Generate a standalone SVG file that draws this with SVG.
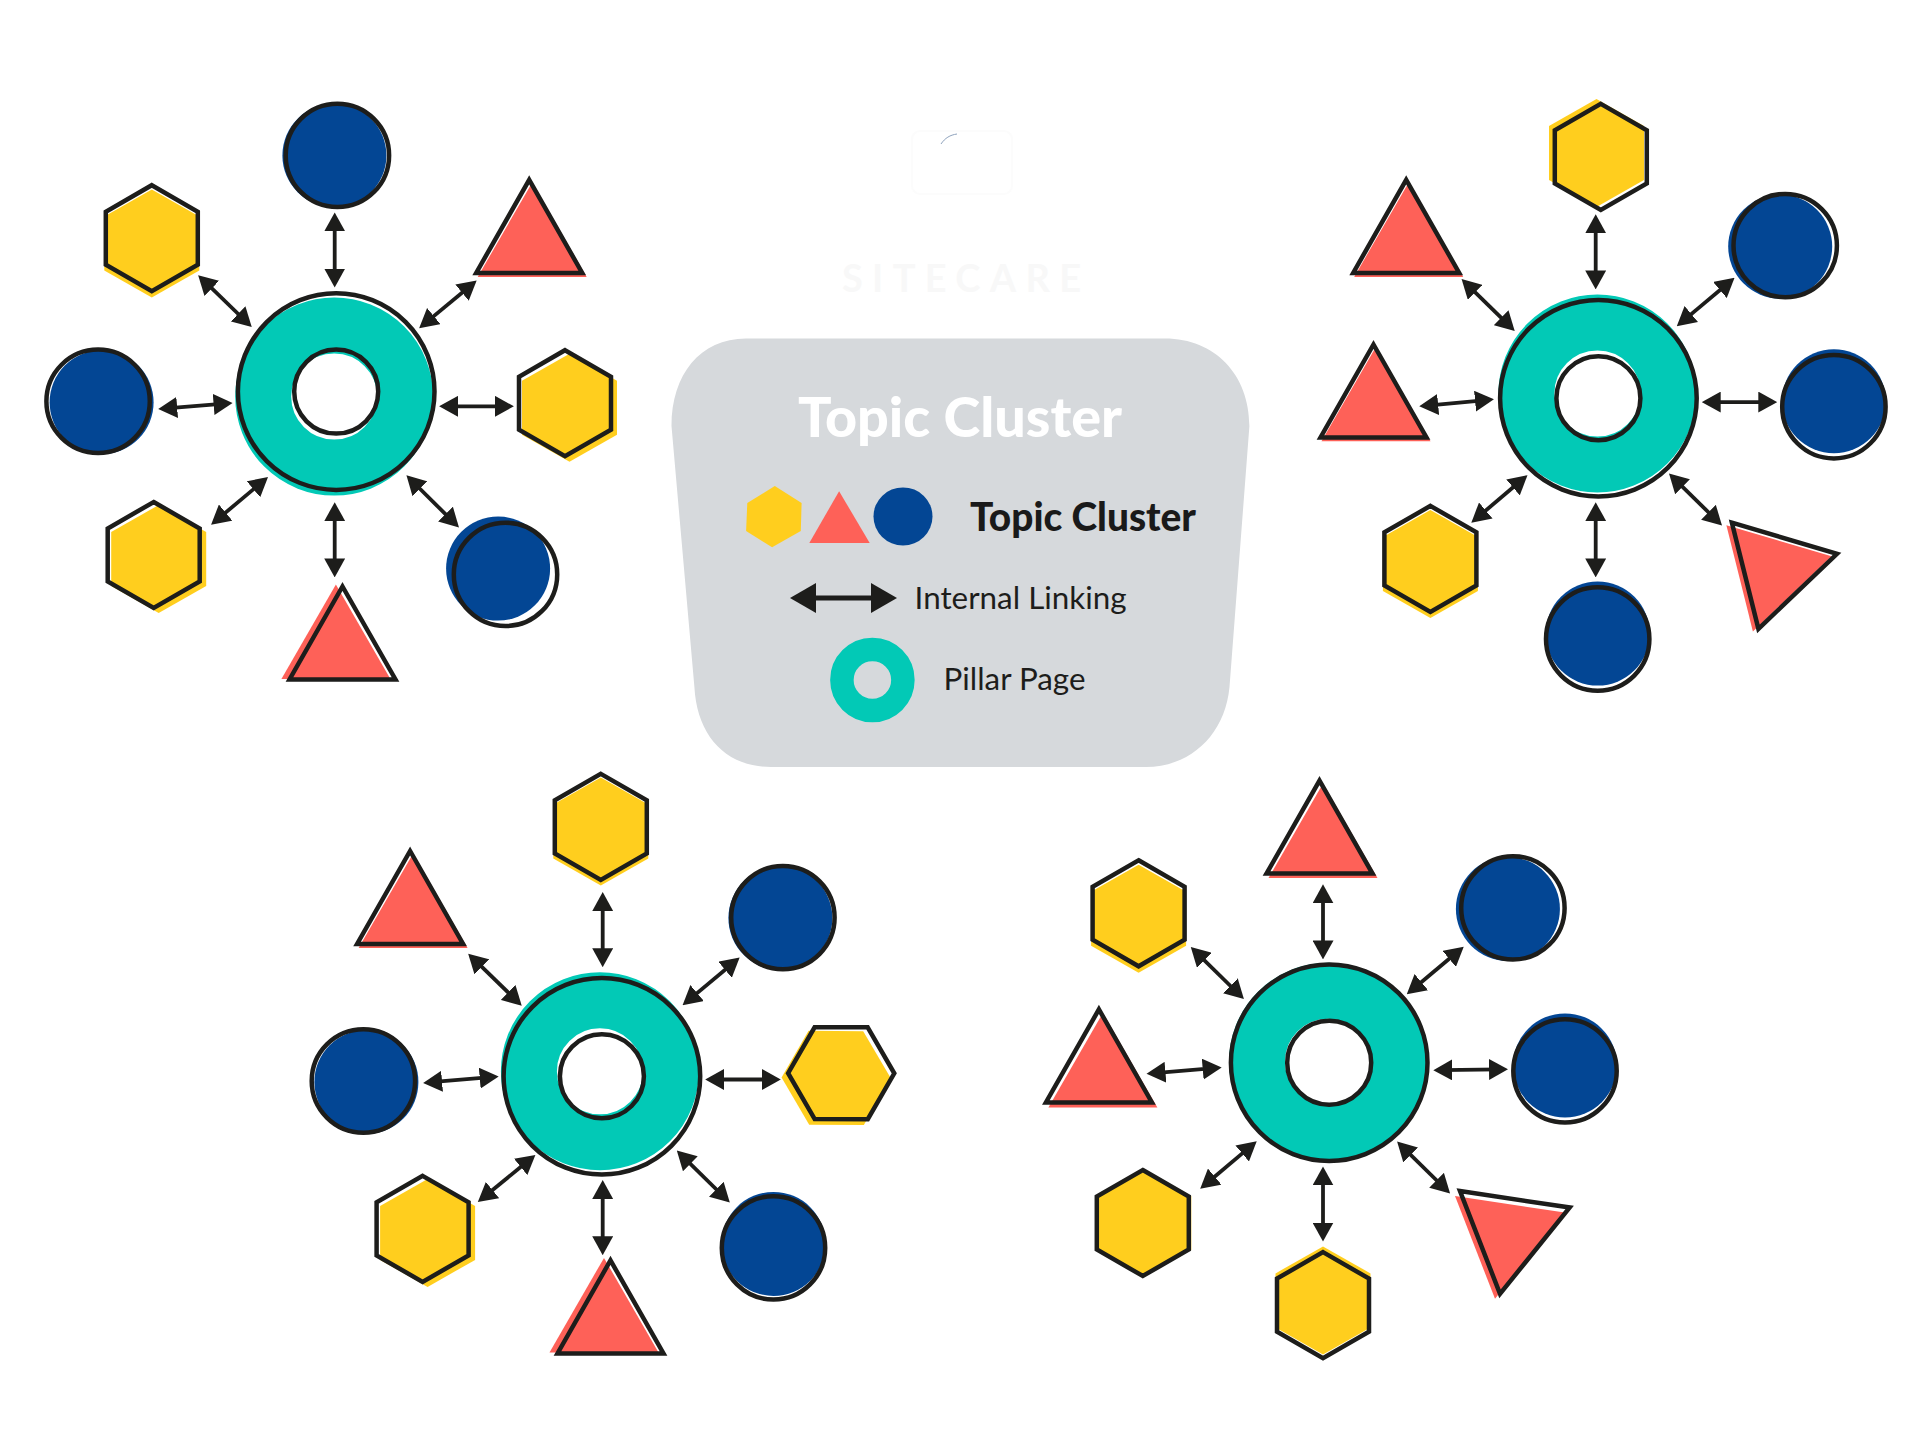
<svg xmlns="http://www.w3.org/2000/svg" width="1920" height="1440" viewBox="0 0 1920 1440">
<style>
.y{fill:#ffce1e}.r{fill:#fe6158}.b{fill:#034694}
.o{fill:none;stroke:#1d1d1b;stroke-width:4.5;stroke-linejoin:miter}
.t{fill:none;stroke:#02c9b6;stroke-width:56}
.c line{stroke:#1d1d1b;stroke-width:3.8;marker-start:url(#ah);marker-end:url(#ah)}
text{font-family:Lato,"Liberation Sans",sans-serif}
</style>
<defs>
<marker id="ah" markerUnits="userSpaceOnUse" viewBox="0 0 19 21" markerWidth="19" markerHeight="21" refX="11" refY="10.5" orient="auto-start-reverse"><path d="M0,0L19,10.5L0,21Z" fill="#1d1d1b"/></marker>
<marker id="ahl" markerUnits="userSpaceOnUse" viewBox="0 0 26 30" markerWidth="26" markerHeight="30" refX="14" refY="15" orient="auto-start-reverse"><path d="M0,0L26,15L0,30Z" fill="#1d1d1b"/></marker>
<polygon id="hf" points="0,-54 47.5,-27 47.5,27 0,54 -47.5,27 -47.5,-27"/>
<polygon id="hl" points="0,-53 46,-26.5 46,26.5 0,53 -46,26.5 -46,-26.5"/>
<polygon id="tf" points="0,-93.5 54.5,1 -54.5,1"/>
<polygon id="tl" points="0,-93 53,0 -53,0"/>
<circle id="cf" r="52"/>
<circle id="cl" r="51.7"/>
<circle id="rt" r="71"/>
<g id="rl"><circle r="98.3"/><circle r="42"/></g>
</defs>
<rect width="1920" height="1440" fill="#fff"/>

<g id="logo">
<path d="M941,144C945,138 950,135 957,134" fill="none" stroke="#8fa3bd" stroke-width="1"/>
<rect x="912" y="131" width="100" height="63" rx="8" fill="none" stroke="#fcfcfc" stroke-width="2"/>
<text x="842" y="292" font-size="38" font-weight="700" fill="#f8f8f8" textLength="239">SITECARE</text>
</g>

<g id="legend">
<path d="M746,338.6H1165C1215,338.6 1249.4,375 1249.4,426L1229.5,687C1225,735 1190,767 1146,767H771C725,767 697,735 694.4,687L671.5,426C671.5,375 700,338.6 746,338.6Z" fill="#d6d9dc"/>
<text x="798" y="437" font-size="56" font-weight="900" fill="#fff" textLength="324" lengthAdjust="spacingAndGlyphs">Topic Cluster</text>
<polygon class="y" points="774.8,486 801.6,503 800.8,531 772.1,547.2 746.1,531 747.3,503"/>
<polygon class="r" points="839.1,491.2 869.7,543 809.3,543"/>
<ellipse class="b" cx="903" cy="516.4" rx="29.5" ry="29"/>
<text x="970" y="531" font-size="39" font-weight="900" fill="#1a1a1a" textLength="226" lengthAdjust="spacingAndGlyphs">Topic Cluster</text>
<line x1="802" y1="598" x2="885" y2="598" stroke="#1d1d1b" stroke-width="5" marker-start="url(#ahl)" marker-end="url(#ahl)"/>
<text x="914.6" y="608.7" font-size="31" fill="#1d1d1b" textLength="212" lengthAdjust="spacingAndGlyphs">Internal Linking</text>
<circle cx="872.4" cy="680" r="30.5" fill="none" stroke="#02c9b6" stroke-width="23.5"/>
<text x="943.5" y="690" font-size="31" fill="#1d1d1b" textLength="142" lengthAdjust="spacingAndGlyphs">Pillar Page</text>
</g>

<g id="connectors" class="c">
<line x1="334.7" y1="220.4" x2="334.7" y2="279.5"/>
<line x1="470.5" y1="285.7" x2="425.3" y2="323.1"/>
<line x1="447.1" y1="406.3" x2="505.9" y2="406.3"/>
<line x1="412.1" y1="481" x2="453.3" y2="521.9"/>
<line x1="334.7" y1="510.2" x2="334.7" y2="569.4"/>
<line x1="261.9" y1="482.2" x2="217.2" y2="519.6"/>
<line x1="224.6" y1="403.6" x2="166.2" y2="408.3"/>
<line x1="203.9" y1="280.7" x2="246" y2="321.5"/>

<line x1="1595.7" y1="222.3" x2="1595.7" y2="281.4"/>
<line x1="1728.4" y1="283" x2="1682.9" y2="321.1"/>
<line x1="1709.7" y1="402.1" x2="1769.3" y2="402.1"/>
<line x1="1674.7" y1="479.1" x2="1716.3" y2="520"/>
<line x1="1595.7" y1="510.2" x2="1595.7" y2="569.4"/>
<line x1="1521.4" y1="480.3" x2="1477.4" y2="517.6"/>
<line x1="1486" y1="400.1" x2="1427.2" y2="405.6"/>
<line x1="1467.3" y1="284.6" x2="1509" y2="325.4"/>

<line x1="602.7" y1="900.1" x2="602.7" y2="959.2"/>
<line x1="733.5" y1="962.7" x2="688.7" y2="1000.1"/>
<line x1="713.2" y1="1079.5" x2="772.8" y2="1079.5"/>
<line x1="682.5" y1="1156.1" x2="724.1" y2="1197"/>
<line x1="602.7" y1="1188" x2="602.7" y2="1247.2"/>
<line x1="529.2" y1="1160" x2="484" y2="1197"/>
<line x1="490.7" y1="1077.1" x2="431.1" y2="1082.2"/>
<line x1="473.9" y1="959.2" x2="516" y2="1000.1"/>

<line x1="1323" y1="892.3" x2="1323" y2="951.4"/>
<line x1="1457.6" y1="951.8" x2="1412.9" y2="989.2"/>
<line x1="1441.3" y1="1070.1" x2="1500" y2="1069.3"/>
<line x1="1402.8" y1="1147.2" x2="1444.4" y2="1188"/>
<line x1="1323" y1="1174.4" x2="1323" y2="1233.5"/>
<line x1="1250.6" y1="1146.4" x2="1206.3" y2="1183.7"/>
<line x1="1213.7" y1="1068.2" x2="1154.5" y2="1073.2"/>
<line x1="1196.5" y1="952.6" x2="1238.2" y2="993.5"/>
</g>

<g id="cluster-1">
<g id="c1-pillar"><use href="#rt" class="t" transform="translate(334.2 396.6)"/><use href="#rl" class="o" transform="translate(336.2 391.6)"/></g>
<g id="c1-top"><use href="#cf" class="b" transform="translate(334.4 155.4)"/><use href="#cl" class="o" transform="translate(337.4 155.4)"/></g>
<g id="c1-tl"><use href="#hf" class="y" transform="translate(151.8 243.6)"/><use href="#hl" class="o" transform="translate(151.8 238.2)"/></g>
<g id="c1-tr"><use href="#tf" class="r" transform="translate(532.2 275.9)"/><use href="#tl" class="o" transform="translate(529.2 272.9)"/></g>
<g id="c1-r"><use href="#hf" class="y" transform="translate(569.5 407.7)"/><use href="#hl" class="o" transform="translate(565 403.2)"/></g>
<g id="c1-br"><use href="#cf" class="b" transform="translate(498.1 568.6)"/><use href="#cl" class="o" transform="translate(505.5 574.4)"/></g>
<g id="c1-b"><use href="#tf" class="r" transform="translate(335.9 678)"/><use href="#tl" class="o" transform="translate(342.5 679.5)"/></g>
<g id="c1-bl"><use href="#hf" class="y" transform="translate(158.7 559)"/><use href="#hl" class="o" transform="translate(153.7 555)"/></g>
<g id="c1-l"><use href="#cf" class="b" transform="translate(101.6 402.3)"/><use href="#cl" class="o" transform="translate(98.1 401.3)"/></g>
</g>

<g id="cluster-2">
<g id="c2-pillar"><use href="#rt" class="t" transform="translate(1597.4 393.5)"/><use href="#rl" class="o" transform="translate(1598.4 398.2)"/></g>
<g id="c2-top"><use href="#hf" class="y" transform="translate(1596.5 153)"/><use href="#hl" class="o" transform="translate(1600.8 156.9)"/></g>
<g id="c2-tr"><use href="#cf" class="b" transform="translate(1780.2 246.6)"/><use href="#cl" class="o" transform="translate(1785.2 245.6)"/></g>
<g id="c2-r"><use href="#cf" class="b" transform="translate(1833.9 401.3)"/><use href="#cl" class="o" transform="translate(1833.9 406.7)"/></g>
<g id="c2-br"><polygon class="r" points="1726.4,525.2 1831.5,556.3 1752.9,631.4"/><polygon class="o" points="1731.9,522.7 1837,553.8 1758.4,628.9"/></g>
<g id="c2-b"><use href="#cf" class="b" transform="translate(1597.7 633.6)"/><use href="#cl" class="o" transform="translate(1597.7 639)"/></g>
<g id="c2-bl"><use href="#hf" class="y" transform="translate(1430.4 563.9)"/><use href="#hl" class="o" transform="translate(1430.4 558.9)"/></g>
<g id="c2-l"><use href="#tf" class="r" transform="translate(1376 440.2)"/><use href="#tl" class="o" transform="translate(1373.5 437.5)"/></g>
<g id="c2-tl"><use href="#tf" class="r" transform="translate(1408.7 275.9)"/><use href="#tl" class="o" transform="translate(1406.2 272.9)"/></g>
</g>

<g id="cluster-3">
<g id="c3-pillar"><use href="#rt" class="t" transform="translate(599.9 1071.3)"/><use href="#rl" class="o" transform="translate(601.9 1076.3)"/></g>
<g id="c3-top"><use href="#hf" class="y" transform="translate(600.8 831.4)"/><use href="#hl" class="o" transform="translate(600.8 826.9)"/></g>
<g id="c3-tr"><use href="#cf" class="b" transform="translate(780.4 918.1)"/><use href="#cl" class="o" transform="translate(782.9 917.6)"/></g>
<g id="c3-r"><use href="#hf" class="y" transform="translate(836.2 1077.9) rotate(30)"/><use href="#hl" class="o" transform="translate(841.2 1073.2) rotate(30)"/></g>
<g id="c3-br"><use href="#cf" class="b" transform="translate(773.5 1243.9)"/><use href="#cl" class="o" transform="translate(773.5 1247.9)"/></g>
<g id="c3-b"><use href="#tf" class="r" transform="translate(604 1351.4)"/><use href="#tl" class="o" transform="translate(610.5 1353.4)"/></g>
<g id="c3-bl"><use href="#hf" class="y" transform="translate(427.6 1232.9)"/><use href="#hl" class="o" transform="translate(422.6 1228.9)"/></g>
<g id="c3-l"><use href="#cf" class="b" transform="translate(366.4 1082)"/><use href="#cl" class="o" transform="translate(363.4 1081)"/></g>
<g id="c3-tl"><use href="#tf" class="r" transform="translate(413.1 947)"/><use href="#tl" class="o" transform="translate(410.1 944)"/></g>
</g>

<g id="cluster-4">
<g id="c4-pillar"><use href="#rt" class="t" transform="translate(1328 1061.7)"/><use href="#rl" class="o" transform="translate(1329.2 1062.7)"/></g>
<g id="c4-top"><use href="#tf" class="r" transform="translate(1323 877.1)"/><use href="#tl" class="o" transform="translate(1319.5 873.6)"/></g>
<g id="c4-tr"><use href="#cf" class="b" transform="translate(1507.9 908.9)"/><use href="#cl" class="o" transform="translate(1512.9 907.9)"/></g>
<g id="c4-r"><use href="#cf" class="b" transform="translate(1565 1065.4)"/><use href="#cl" class="o" transform="translate(1565 1070.9)"/></g>
<g id="c4-br"><polygon class="r" points="1455,1196.1 1564.7,1212.5 1495,1298.8"/><polygon class="o" points="1460,1191.1 1569.7,1207.5 1500,1293.8"/></g>
<g id="c4-b"><use href="#hf" class="y" transform="translate(1323 1300.4)"/><use href="#hl" class="o" transform="translate(1323 1305.1)"/></g>
<g id="c4-bl"><use href="#hf" class="y" transform="translate(1143.8 1223)"/><use href="#hl" class="o" transform="translate(1142.8 1223)"/></g>
<g id="c4-l"><use href="#tf" class="r" transform="translate(1102.9 1106.4)"/><use href="#tl" class="o" transform="translate(1098.9 1102.4)"/></g>
<g id="c4-tl"><use href="#hf" class="y" transform="translate(1138.6 918.8)"/><use href="#hl" class="o" transform="translate(1138.6 913.3)"/></g>
</g>
</svg>
